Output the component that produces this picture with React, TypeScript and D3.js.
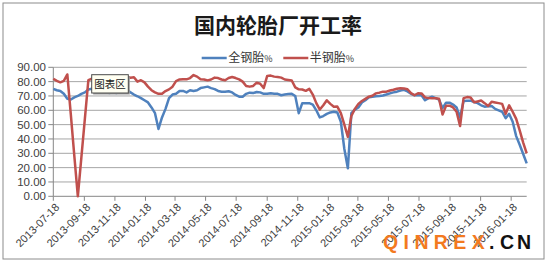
import React from "react";
import * as d3 from "d3";

const title = "国内轮胎厂开工率";
const seriesNames = ["全钢胎%", "半钢胎%"];
const seriesColors = ["#4f81bd", "#c0504d"];
const startDate = "2013-07-18";
const endDate = "2016-02-18";
const tickLabels = [
  "2013-07-18", "2013-09-18", "2013-11-18", "2014-01-18", "2014-03-18", "2014-05-18",
  "2014-07-18", "2014-09-18", "2014-11-18", "2015-01-18", "2015-03-18", "2015-05-18",
  "2015-07-18", "2015-09-18", "2015-11-18", "2016-01-18",
];
const yTicks = [0, 10, 20, 30, 40, 50, 60, 70, 80, 90];

// weekly readings, starting 2013-07-18
const allSteel = [
  75, 74, 73.5, 71.5, 68, 67.5, 69, 70, 71.5, 72.5,
  74.5, 75, 74.5, 73.5, 72.5, 73, 72, 72.5, 72, 73,
  74, 74.5, 72.5, 71, 69.8, 68.5, 67, 65.5, 62, 58,
  47, 55, 61, 68.5, 71, 71.5, 73.5, 73.5, 72.5, 74,
  73.5, 74, 75.5, 76, 76.5, 75.5, 74.8, 73.5, 73, 73,
  73.3, 72.5, 70.7, 69.5, 69.5, 71.5, 72.3, 72, 72.8, 72.5,
  71.5, 71.5, 71.9, 71.5, 71.5, 70.5, 71, 71.3, 71.5, 70,
  58, 65, 65, 65, 64, 60, 55, 56, 57.5, 58.5,
  59, 58.5, 52, 33, 19.5, 58, 60.5, 62, 65.5, 67,
  69, 69.5, 69.8, 70, 70.3, 71, 71.8, 72.5, 73, 73.8,
  74.3, 73.2, 71.5, 70.5, 70.7, 70.5, 67, 68.5, 69.5, 68.5,
  67.5, 61.5, 65.3, 65.3, 64, 62, 55, 66.5, 66.7, 66.7,
  65.8, 65, 63.5, 62.5, 62.8, 63, 61, 60, 59, 54.5,
  57.5, 52, 42, 36, 29.5, 23,
];
const semiSteel = [
  82, 80.5, 79.5, 80.5, 85, 57, 28, 0, 27, 54,
  81, 82, 83, 82, 83, 82, 81.5, 82, 82.5, 83,
  82.5, 83.5, 82.7, 83, 80, 81, 79.5, 76.5, 74, 72.5,
  71.5, 71.5, 73.4, 74.6, 76.5, 80.4, 81.5, 81.6, 81.6, 82.5,
  84.6, 83.5, 81.6, 81.5, 80.9, 81.5, 82.8, 82.5, 81.5, 81,
  82.5, 83.2, 82.5, 81.6, 80, 77, 76.5, 77, 79.3, 78.5,
  75.5, 84, 84.2, 83.5, 83.2, 82.8, 81.5, 81.2, 80.8, 76,
  74.6, 74.5, 73.6, 75, 71, 65, 60.5, 63.5, 67, 64.5,
  62.5, 62.6, 58, 50, 41.5, 56, 61, 64.5, 66.5, 68,
  69.5, 70.2, 71.8, 72.3, 73, 73, 73.8, 74.3, 75, 75.4,
  75.2, 74.7, 72, 70.5, 71.9, 71.8, 69, 68.5, 68.4, 68.4,
  68, 57, 63.1, 63.2, 62, 59, 49, 68.5, 69.2, 69,
  65.6, 66.2, 66.8, 65, 63, 66, 65.5, 65, 64.5, 57.5,
  63.5, 59, 54, 46, 37.5, 30,
];

const parse = d3.timeParse("%Y-%m-%d");

export default function App() {
  const W = 553, H = 263;
  const left = 53.3, right = 526.7, top = 67.3, bottom = 196.3;
  const start = parse(startDate)!;
  const x = d3.scaleTime().domain([start, parse(endDate)!]).range([left, right]);
  const y = d3.scaleLinear().domain([0, 90]).range([bottom, top]);
  const dates = allSteel.map((_, i) => d3.timeDay.offset(start, 7 * i));
  const line = d3.line<number>().x((_, i) => x(dates[i])).y((d) => y(d));
  const ticks = tickLabels.map((t) => ({ t, d: parse(t)! }));
  const axisColor = "#868686";
  const gridColor = "#a6a6a6";
  const numFont = "'Liberation Sans', Arial, sans-serif";
  const cjk = "'Noto Sans CJK SC', sans-serif";

  return (
    <svg width={W} height={H} style={{ position: "absolute", left: 0, top: 0, background: "#fff" }}>
      <rect x={0} y={0} width={W} height={H} fill="#fff" />
      <rect x={3} y={3} width={541} height={256} fill="#fff" stroke="#8c8c8c" strokeWidth={1} />
      <text x={278} y={33} textAnchor="middle" fontFamily={cjk} fontWeight={700} fontSize={21} fill="#1a1a1a">
        {title}
      </text>
      {/* legend */}
      {seriesNames.map((n, i) => {
        const lx = i === 0 ? 201.7 : 283.3;
        return (
          <g key={n}>
            <line x1={lx} x2={lx + 25} y1={58} y2={58} stroke={seriesColors[i]} strokeWidth={2.5} />
            <text x={lx + 26.5} y={62.2} fontFamily={cjk} fontSize={12} fill="#333">
              {n.replace("%", "")}
              <tspan fontSize={9}>%</tspan>
            </text>
          </g>
        );
      })}
      {/* grid */}
      {yTicks.map((v) => (
        <g key={v}>
          <line x1={left} x2={right} y1={y(v)} y2={y(v)} stroke={v === 0 ? axisColor : gridColor} strokeWidth={1} />
          <line x1={left - 5} x2={left} y1={y(v)} y2={y(v)} stroke={axisColor} />
          <text x={46} y={y(v)} dy="0.35em" textAnchor="end" fontFamily={numFont} fontSize={11.5} fill="#404040">
            {v.toFixed(2)}
          </text>
        </g>
      ))}
      <line x1={left} x2={left} y1={top} y2={bottom} stroke={axisColor} />
      {ticks.map(({ t, d }) => (
        <g key={t}>
          <line x1={x(d)} x2={x(d)} y1={bottom} y2={bottom + 4.5} stroke={axisColor} />
          <text
            transform={`translate(${x(d) + 4},${bottom + 9}) rotate(-45)`}
            textAnchor="end"
            dy="0.35em"
            fontFamily={numFont}
            fontSize={11}
            fill="#404040"
          >
            {t}
          </text>
        </g>
      ))}
      <path d={line(allSteel) || ""} fill="none" stroke={seriesColors[0]} strokeWidth={2.5} strokeLinejoin="round" />
      <path d={line(semiSteel) || ""} fill="none" stroke={seriesColors[1]} strokeWidth={2.5} strokeLinejoin="round" />
      {/* tooltip */}
      <rect x={93.2} y={76.2} width={36.6} height={18.3} fill="#9a9a9a" />
      <rect x={91.7} y={74.7} width={36.6} height={18.3} fill="#fffff2" stroke="#4a4a4a" strokeWidth={1} />
      <text x={110} y={84} dy="0.36em" textAnchor="middle" fontFamily={cjk} fontSize={10.5} fill="#222">
        图表区
      </text>
      {/* watermark */}
      <text x={383} y={248.5} fontFamily={numFont} fontWeight={700} fontSize={19.5} letterSpacing={5.4} fill="#f37a1f">
        QINREX
      </text>
      <text x={489} y={248.5} fontFamily={numFont} fontWeight={700} fontSize={19.5} fill="#111">.</text>
      <text x={500} y={248.5} fontFamily={numFont} fontWeight={700} fontSize={19.5} letterSpacing={3} fill="#111">
        CN
      </text>
    </svg>
  );
}
